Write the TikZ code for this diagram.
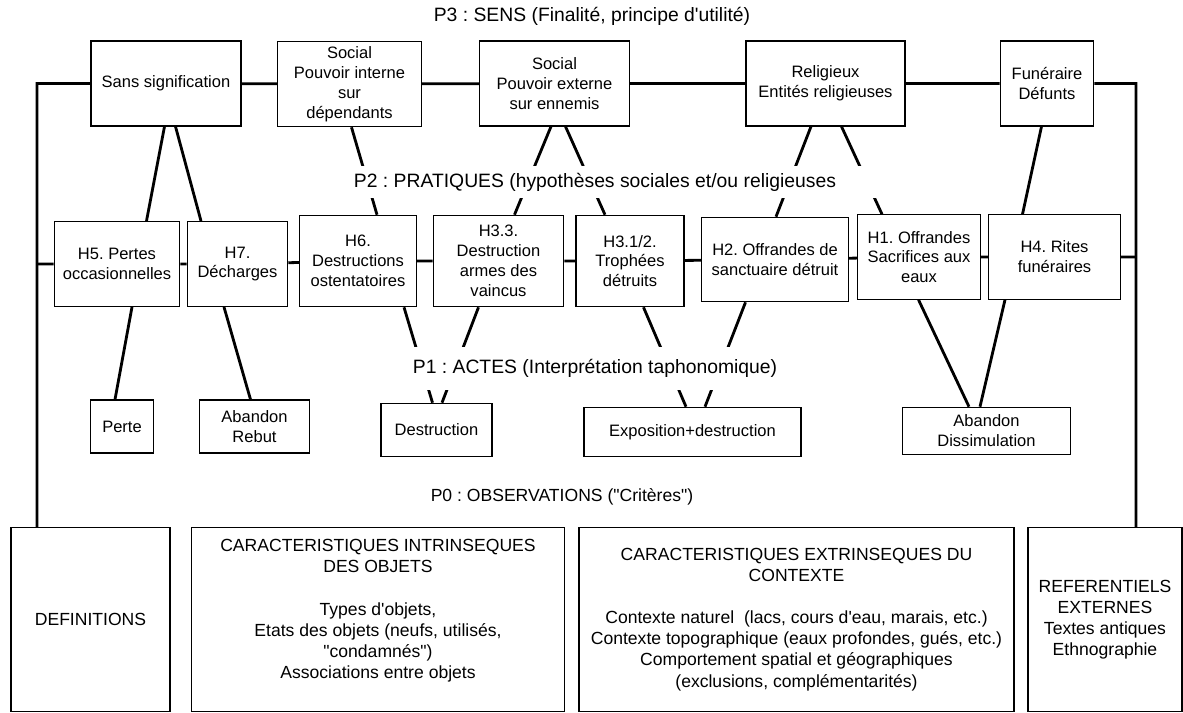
\documentclass[tikz,border=0pt]{standalone}
\usepackage{fontspec}
\setmainfont{Liberation Sans}[Ligatures=TeXOff]
\usepackage{tikz}
\frenchspacing

\tikzset{
  box/.style={draw, fill=white, line width=0.6pt, align=center, inner sep=0pt, font=\fontsize{9.4}{11.3}\selectfont},
  obsbox/.style={box, font=\fontsize{10}{12}\selectfont},
  level/.style={inner sep=0pt, font=\fontsize{11}{13}\selectfont},
  link/.style={line width=1.6pt},
}

\begin{document}
\begin{tikzpicture}
    \useasboundingbox (0,0) rectangle (23.66,-14.26);

    % P3 : sens
    \node (SAN) [box, minimum width=3.0cm, minimum height=1.7cm] at (3.32,-1.67) {Sans signification};
    \node (SPI) [box, minimum width=2.87cm, minimum height=1.71cm] at (6.99,-1.68) {Social\\Pouvoir interne\\sur\\dépendants};
    \node (SPE) [box, minimum width=2.99cm, minimum height=1.7cm] at (11.09,-1.67) {Social\\Pouvoir externe\\sur ennemis};
    \node (REL) [box, minimum width=3.18cm, minimum height=1.7cm] at (16.51,-1.67) {Religieux\\Entités religieuses};
    \node (FUN) [box, minimum width=1.87cm, minimum height=1.7cm] at (20.94,-1.67) {Funéraire\\Défunts};

    % P2 : pratiques
    \node (H5) [box, minimum width=2.51cm, minimum height=1.7cm] at (2.34,-5.28) {H5. Pertes\\occasionnelles};
    \node (H7) [box, minimum width=2.01cm, minimum height=1.7cm] at (4.75,-5.28) {H7.\\Décharges};
    \node (H6) [box, minimum width=2.33cm, minimum height=1.83cm] at (7.16,-5.22) {H6.\\Destructions\\ostentatoires};
    \node (H33) [box, minimum width=2.61cm, minimum height=1.83cm] at (9.97,-5.22) {H3.3.\\Destruction\\armes des\\vaincus};
    \node (H312) [box, minimum width=2.16cm, minimum height=1.83cm] at (12.60,-5.22) {H3.1/2.\\Trophées\\détruits};
    \node (H2) [box, minimum width=2.94cm, minimum height=1.69cm] at (15.50,-5.19) {H2. Offrandes de\\sanctuaire détruit};
    \node (H1) [box, minimum width=2.45cm, minimum height=1.69cm] at (18.38,-5.14) {H1. Offrandes\\Sacrifices aux\\eaux};
    \node (H4) [box, minimum width=2.63cm, minimum height=1.69cm] at (21.09,-5.14) {H4. Rites\\funéraires};

    % P1 : actes
    \node (PER) [box, minimum width=1.25cm, minimum height=1.06cm] at (2.44,-8.53) {Perte};
    \node (ABR) [box, minimum width=2.19cm, minimum height=1.06cm] at (5.09,-8.53) {Abandon\\Rebut};
    \node (DES) [box, minimum width=2.22cm, minimum height=1.07cm] at (8.73,-8.60) {Destruction};
    \node (EXP) [box, minimum width=4.34cm, minimum height=0.99cm] at (13.85,-8.64) {Exposition+destruction};
    \node (ABD) [box, minimum width=3.36cm, minimum height=0.95cm] at (19.73,-8.62) {Abandon\\Dissimulation};

    % P0 : observations
    \node (DEF) [obsbox, minimum width=3.18cm, minimum height=3.68cm] at (1.81,-12.39) {DEFINITIONS};
    \node (INT) [obsbox, minimum width=7.46cm, minimum height=3.68cm] at (7.56,-12.39) {CARACTERISTIQUES INTRINSEQUES\\DES OBJETS\\[12pt]Types d'objets,\\Etats des objets (neufs, utilisés,\\"condamnés")\\Associations entre objets\\ \mbox{}};
    \node (EXT) [obsbox, minimum width=8.70cm, minimum height=3.68cm] at (15.93,-12.39) {CARACTERISTIQUES EXTRINSEQUES DU\\CONTEXTE\\[12pt]Contexte naturel\ \ (lacs, cours d'eau, marais, etc.)\\Contexte topographique (eaux profondes, gués, etc.)\\Comportement spatial et géographiques\\(exclusions, complémentarités)};
    \node (REF) [obsbox, minimum width=3.08cm, minimum height=3.68cm] at (22.10,-12.39) {REFERENTIELS\\EXTERNES\\Textes antiques\\Ethnographie};

    \coordinate (LT3) at (0.74,-1.67);
    \coordinate (RT3) at (22.72,-1.67);
    \coordinate (LT2) at (0.74,-5.28);
    \coordinate (RT2) at (22.72,-5.14);

    \draw[link] (DEF.north -| LT3) -- (LT3) -- (SAN) -- (SPI) -- (SPE) -- (REL) -- (FUN) -- (RT3) -- (REF.north -| RT3);
    \draw[link] (LT2) -- (H5) -- (H7) -- (H6) -- (H33) -- (H312) -- (H2) -- (H1) -- (H4) -- (RT2);

    \draw[link] (SAN.south -| 3.29,0) -- (H5.north -| 2.93,0);
    \draw[link] (SAN.south -| 3.51,0) -- (H7.north -| 4.02,0);
    \draw[link] (SPI.south -| 7.03,0) -- (H6.north -| 7.54,0);
    \draw[link] (SPE.south -| 11.02,0) -- (H33.north -| 10.29,0);
    \draw[link] (SPE.south -| 11.31,0) -- (H312.north -| 12.10,0);
    \draw[link] (REL.south -| 16.22,0) -- (H2.north -| 15.52,0);
    \draw[link] (REL.south -| 16.83,0) -- (H1.north -| 17.64,0);
    \draw[link] (FUN.south -| 20.83,0) -- (H4.north -| 20.45,0);

    \draw[link] (H5.south -| 2.64,0) -- (PER.north -| 2.30,0);
    \draw[link] (H7.south -| 4.48,0) -- (ABR.north -| 5.01,0);
    \draw[link] (H6.south -| 8.08,0) -- (DES.north -| 8.65,0);
    \draw[link] (H33.south -| 9.57,0) -- (DES.north -| 8.84,0);
    \draw[link] (H312.south -| 12.87,0) -- (EXP.north -| 13.72,0);
    \draw[link] (H2.south -| 14.91,0) -- (EXP.north -| 14.10,0);
    \draw[link] (H1.south -| 18.37,0) -- (ABD.north -| 19.38,0);
    \draw[link] (H4.south -| 20.10,0) -- (ABD.north -| 19.60,0);

    % niveaux
    \node (P3) [level] at (11.84,-0.32) {P3 : SENS (Finalité, principe d'utilité)};
    \node (P2) [level, fill=white, minimum width=11.4cm, minimum height=0.64cm] at (11.90,-3.64) {P2 : PRATIQUES (hypothèses sociales et/ou religieuses};
    \node (P1) [level, fill=white, minimum width=7.6cm, minimum height=0.86cm] at (11.90,-7.36) {P1 : ACTES (Interprétation taphonomique)};
    \node (P0) [level, font=\fontsize{10}{12}\selectfont] at (11.24,-9.94) {P0 : OBSERVATIONS ("Critères")};
\end{tikzpicture}
\end{document}
